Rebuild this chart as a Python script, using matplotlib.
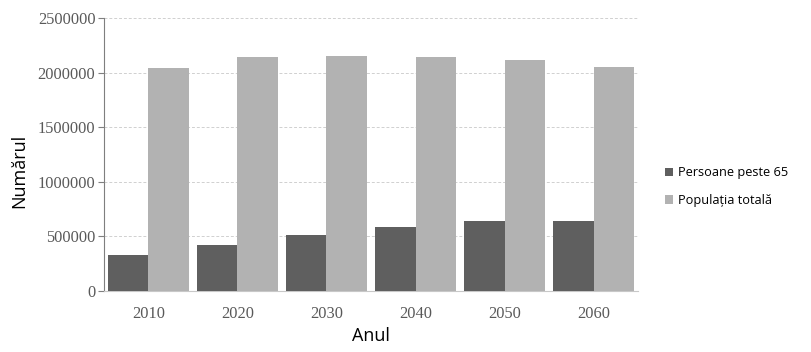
import matplotlib
matplotlib.use("Agg")
import matplotlib.pyplot as plt
import numpy as np

# date
ani = ["2010", "2020", "2030", "2040", "2050", "2060"]
persoane_peste_65 = [330000, 421000, 513000, 586000, 641000, 641000]
populatia_totala = [2042000, 2143000, 2152000, 2143000, 2115000, 2051000]
y_ticks = [0, 500000, 1000000, 1500000, 2000000, 2500000]

DARK = "#5f5f5f"
LIGHT = "#b2b2b2"

fig = plt.figure(figsize=(8.11, 3.52), dpi=100)
ax = fig.add_axes([0.128, 0.173, 0.659, 0.776])

x = np.arange(len(ani))
w = 0.455
ax.bar(x - w / 2, persoane_peste_65, width=w, color=DARK, label="Persoane peste 65", zorder=3)
ax.bar(x + w / 2, populatia_totala, width=w, color=LIGHT, label="Populația totală", zorder=3)

ax.set_xlim(-0.5, len(ani) - 0.5)
ax.set_ylim(0, 2500000)
ax.set_yticks(y_ticks)
ax.set_yticklabels([str(v) for v in y_ticks])
ax.set_xticks(x)
ax.set_xticklabels(ani)

ax.grid(axis="y", color="#d0d0d0", linestyle=(0, (3, 2)), linewidth=0.7, zorder=0)
for s in ["top", "right"]:
    ax.spines[s].set_visible(False)
ax.spines["left"].set_color("#7f7f7f")
ax.spines["bottom"].set_color("#c8c8c8")
ax.tick_params(axis="y", length=4, color="#7f7f7f", labelsize=11.8, labelcolor="#595959", pad=2)
ax.tick_params(axis="x", length=0, labelsize=11.8, labelcolor="#595959", pad=11)
for lab in ax.get_xticklabels() + ax.get_yticklabels():
    lab.set_fontfamily("Liberation Serif")

ax.set_ylabel("Numărul", fontsize=13, fontfamily="Open Sans")
ax.set_xlabel("Anul", fontsize=13, fontfamily="Open Sans")
ax.yaxis.set_label_coords(-0.142, 0.44)
ax.xaxis.set_label_coords(0.5, -0.132)

leg = fig.legend(loc="upper left", bbox_to_anchor=(0.806, 0.56), frameon=False,
                 prop={"family": "Open Sans", "size": 9.2},
                 handlelength=0.65, handleheight=0.65, handletextpad=0.35, labelspacing=1.15)

fig.savefig("out.png", dpi=100)
